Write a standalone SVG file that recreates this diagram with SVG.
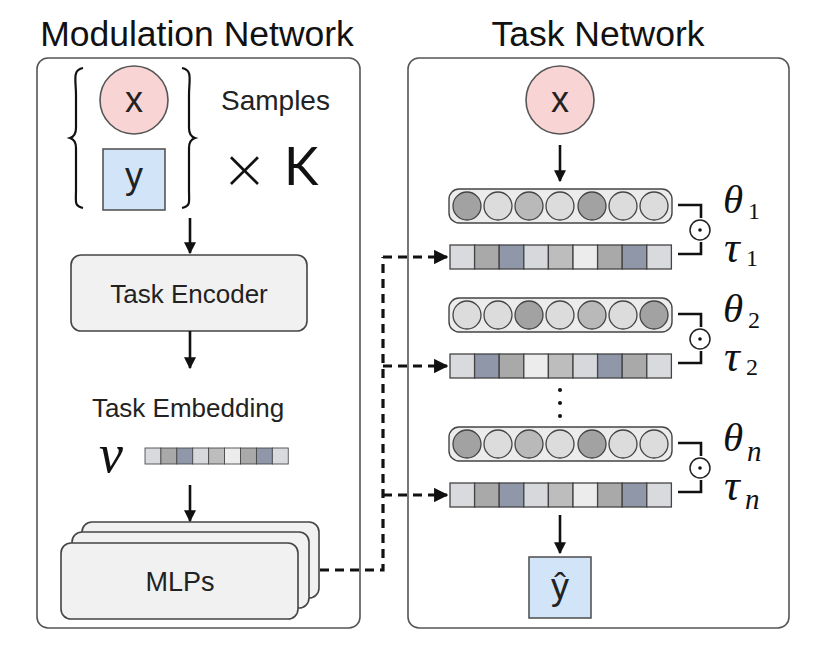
<svg xmlns="http://www.w3.org/2000/svg" width="831" height="652" viewBox="0 0 831 652">
<style>
.panel{fill:#fff;stroke:#555;stroke-width:1.6}
.title{font-family:"Liberation Sans",Arial,sans-serif;font-size:35.5px;fill:#111;text-anchor:middle}
.lbl{font-family:"Liberation Sans",Arial,sans-serif;fill:#222}
.thin{font-family:"DejaVu Sans","Liberation Sans",sans-serif;font-weight:200;fill:#111}
.thinK{font-family:"Lato","Liberation Sans",sans-serif;font-weight:400;fill:#111}
.math{font-family:"Liberation Serif","Times New Roman",serif;font-style:italic;fill:#111}
.sub{font-family:"Liberation Serif","Times New Roman",serif;font-style:normal;fill:#111}
.box{fill:#f1f1f1;stroke:#444;stroke-width:1.6}
.arrow{stroke:#111;stroke-width:2.6;fill:none}
.dash{stroke:#111;stroke-width:3.2;fill:none;stroke-dasharray:9 6}
.row{fill:#ececec;stroke:#444;stroke-width:1.4}
.n{stroke:#444;stroke-width:1.3}
.d{fill:#a2a2a2}.m{fill:#b9b9b9}.l{fill:#dcdcdc}
.c1{fill:#d9dadd}.c2{fill:#a9a9a9}.c3{fill:#8f97a9}.c4{fill:#d6d8dc}.c5{fill:#bdbdbd}.c6{fill:#ececec}
.cell{stroke:#444;stroke-width:1.3}
.brk{stroke:#111;stroke-width:2.6;fill:none}
</style>
<defs>
<marker id="ah" viewBox="0 0 10 10" refX="9" refY="5" markerWidth="4.6" markerHeight="4.6" orient="auto" markerUnits="strokeWidth">
<path d="M0,0 L10,5 L0,10 z" fill="#111"/>
</marker>
<marker id="ahd" viewBox="0 0 10 10" refX="9" refY="5" markerWidth="4.5" markerHeight="4.5" orient="auto" markerUnits="strokeWidth">
<path d="M0,0 L10,5 L0,10 z" fill="#111"/>
</marker>
<g id="bar9">
<rect x="0" y="0" width="24.6" height="24" class="cell c1"/>
<rect x="24.6" y="0" width="24.6" height="24" class="cell c2"/>
<rect x="49.2" y="0" width="24.6" height="24" class="cell c3"/>
<rect x="73.8" y="0" width="24.6" height="24" class="cell c4"/>
<rect x="98.4" y="0" width="24.6" height="24" class="cell c5"/>
<rect x="123" y="0" width="24.6" height="24" class="cell c6"/>
<rect x="147.6" y="0" width="24.6" height="24" class="cell c2"/>
<rect x="172.2" y="0" width="24.6" height="24" class="cell c3"/>
<rect x="196.8" y="0" width="24.6" height="24" class="cell c1"/>
</g>
<g id="bar9b">
<rect x="0" y="0" width="24.6" height="24" class="cell c1"/>
<rect x="24.6" y="0" width="24.6" height="24" class="cell c3"/>
<rect x="49.2" y="0" width="24.6" height="24" class="cell c2"/>
<rect x="73.8" y="0" width="24.6" height="24" class="cell c6"/>
<rect x="98.4" y="0" width="24.6" height="24" class="cell c5"/>
<rect x="123" y="0" width="24.6" height="24" class="cell c4"/>
<rect x="147.6" y="0" width="24.6" height="24" class="cell c3"/>
<rect x="172.2" y="0" width="24.6" height="24" class="cell c2"/>
<rect x="196.8" y="0" width="24.6" height="24" class="cell c1"/>
</g>
<g id="odot">
<circle cx="0" cy="0" r="10" fill="#fff" stroke="#222" stroke-width="1.5"/>
<circle cx="0" cy="0" r="1.8" fill="#111"/>
</g>
</defs>

<rect width="831" height="652" fill="#fff"/>

<text class="title" x="197" y="46">Modulation Network</text>
<text class="title" x="598" y="46">Task Network</text>

<g id="modulation-panel"><rect class="panel" x="37" y="58" width="323" height="570" rx="11"/></g>
<g id="task-panel"><rect class="panel" x="408" y="58" width="381" height="570" rx="11"/></g>

<g id="samples">
<path d="M83,68 C72,70 76,80 76,95 L76,128 C76,134 73,137 70,138 C73,139 76,142 76,148 L76,190 C76,202 74,206 83,208" fill="none" stroke="#111" stroke-width="2.2"/>
<path d="M182,68 C193,70 189,80 189,95 L189,128 C189,134 192,137 195,138 C192,139 189,142 189,148 L189,190 C189,202 191,206 182,208" fill="none" stroke="#111" stroke-width="2.2"/>
<circle cx="134" cy="100" r="34" fill="#f8d4d4" stroke="#555" stroke-width="1.6"/>
<text class="lbl" x="134" y="112" font-size="36" text-anchor="middle">x</text>
<rect x="103" y="149" width="62" height="61" fill="#d2e5f8" stroke="#555" stroke-width="1.6"/>
<text class="lbl" x="134" y="188" font-size="36" text-anchor="middle">y</text>
<text class="lbl" x="221" y="110" font-size="28">Samples</text>
<text class="thin" x="221" y="188" font-size="56">×</text>
<text class="thinK" x="284" y="185" font-size="52">K</text>
</g>

<g id="task-encoder">
<rect class="box" x="71" y="255" width="236" height="76" rx="10"/>
<text class="lbl" x="189" y="303" font-size="26" text-anchor="middle">Task Encoder</text>
</g>

<g id="task-embedding">
<text class="lbl" x="188" y="417" font-size="26" text-anchor="middle">Task Embedding</text>
<text class="math" x="99" y="472" font-size="54">v</text>
<g transform="translate(145,448) scale(0.647,0.667)"><use href="#bar9"/></g>
</g>

<g id="mlps">
<rect class="box" x="82" y="522" width="237" height="76" rx="10"/>
<rect class="box" x="72" y="532" width="237" height="76" rx="10"/>
<rect class="box" x="61" y="543" width="237" height="76" rx="10"/>
<text class="lbl" x="180" y="591" font-size="27" text-anchor="middle">MLPs</text>
</g>

<g id="input-x">
<circle cx="560" cy="100" r="34" fill="#f8d4d4" stroke="#555" stroke-width="1.6"/>
<text class="lbl" x="560" y="112" font-size="36" text-anchor="middle">x</text>
</g>

<g id="theta1">
<rect class="row" x="449" y="189" width="223" height="34" rx="10"/>
<circle class="n d" cx="467" cy="206" r="14"/><circle class="n l" cx="498" cy="206" r="14"/><circle class="n m" cx="529" cy="206" r="14"/><circle class="n l" cx="560" cy="206" r="14"/><circle class="n d" cx="592" cy="206" r="14"/><circle class="n l" cx="623" cy="206" r="14"/><circle class="n l" cx="654" cy="206" r="14"/>
<text class="math" x="723" y="213" font-size="41">θ</text><text class="sub" x="748" y="219" font-size="24">1</text>
</g>
<g id="tau1">
<use href="#bar9" x="450" y="245"/>
<text class="math" x="724" y="262" font-size="44">τ</text><text class="sub" x="746" y="266" font-size="24">1</text>
</g>
<g id="odot1">
<path class="brk" d="M678,205 H701 V218 M678,254 H701 V242"/>
<use href="#odot" x="700" y="230"/>
</g>

<g id="theta2">
<rect class="row" x="449" y="298" width="223" height="34" rx="10"/>
<circle class="n l" cx="467" cy="315" r="14"/><circle class="n l" cx="498" cy="315" r="14"/><circle class="n d" cx="529" cy="315" r="14"/><circle class="n l" cx="560" cy="315" r="14"/><circle class="n m" cx="592" cy="315" r="14"/><circle class="n l" cx="623" cy="315" r="14"/><circle class="n d" cx="654" cy="315" r="14"/>
<text class="math" x="723" y="322" font-size="41">θ</text><text class="sub" x="748" y="328" font-size="24">2</text>
</g>
<g id="tau2">
<use href="#bar9b" x="450" y="354"/>
<text class="math" x="724" y="371" font-size="44">τ</text><text class="sub" x="746" y="375" font-size="24">2</text>
</g>
<g id="odot2">
<path class="brk" d="M678,314 H701 V327 M678,363 H701 V351"/>
<use href="#odot" x="700" y="339"/>
</g>

<g id="dots">
<circle cx="560" cy="390" r="2" fill="#111"/><circle cx="560" cy="403" r="2" fill="#111"/><circle cx="560" cy="416" r="2" fill="#111"/>
</g>

<g id="thetan">
<rect class="row" x="449" y="427" width="223" height="34" rx="10"/>
<circle class="n d" cx="467" cy="444" r="14"/><circle class="n l" cx="498" cy="444" r="14"/><circle class="n m" cx="529" cy="444" r="14"/><circle class="n l" cx="560" cy="444" r="14"/><circle class="n d" cx="592" cy="444" r="14"/><circle class="n l" cx="623" cy="444" r="14"/><circle class="n l" cx="654" cy="444" r="14"/>
<text class="math" x="723" y="451" font-size="41">θ</text><text class="math" x="747" y="461" font-size="29">n</text>
</g>
<g id="taun">
<use href="#bar9" x="450" y="483"/>
<text class="math" x="724" y="500" font-size="44">τ</text><text class="math" x="745" y="509" font-size="29">n</text>
</g>
<g id="odotn">
<path class="brk" d="M678,443 H701 V456 M678,492 H701 V480"/>
<use href="#odot" x="700" y="468"/>
</g>

<g id="output-yhat">
<rect x="529" y="557" width="62" height="61" fill="#d2e5f8" stroke="#555" stroke-width="1.6"/>
<text class="lbl" x="560" y="599" font-size="36" text-anchor="middle">ŷ</text>
</g>

<g id="connectors">
<line class="arrow" x1="190" y1="218" x2="190" y2="253" marker-end="url(#ah)"/>
<line class="arrow" x1="190" y1="331" x2="190" y2="368" marker-end="url(#ah)"/>
<line class="arrow" x1="190" y1="485" x2="190" y2="521" marker-end="url(#ah)"/>
<line class="arrow" x1="560" y1="145" x2="560" y2="181" marker-end="url(#ah)"/>
<line class="arrow" x1="560" y1="515" x2="560" y2="553" marker-end="url(#ah)"/>
<path class="dash" d="M320,570 H383 V257"/>
<line class="dash" x1="383" y1="257" x2="447" y2="257" marker-end="url(#ahd)"/>
<line class="dash" x1="383" y1="366" x2="447" y2="366" marker-end="url(#ahd)"/>
<line class="dash" x1="383" y1="495" x2="447" y2="495" marker-end="url(#ahd)"/>
</g>
</svg>
